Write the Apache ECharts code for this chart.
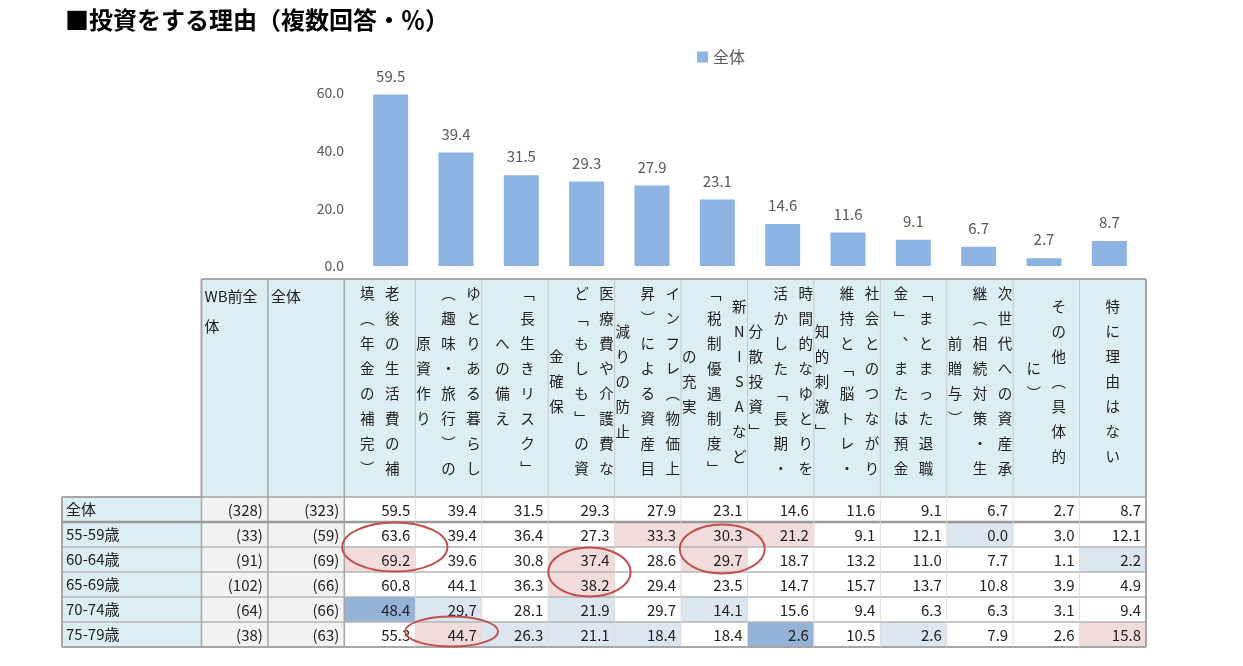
<!DOCTYPE html>
<html>
<head>
<meta charset="utf-8">
<script src="https://cdn.jsdelivr.net/npm/echarts@6/dist/echarts.min.js"></script>
<style>
html, body { margin: 0; padding: 0; background: #fff; }
#chart { width: 1243px; height: 666px; }
</style>
</head>
<body>
<div id="chart"></div>
<script>
// ---- data ----
var reasons = [
    '老後の生活費の補|填（年金の補完）',
    'ゆとりある暮らし|（趣味・旅行）の|原資作り',
    '「長生きリスク」|への備え',
    '医療費や介護費な|ど「もしも」の資|金確保',
    'インフレ（物価上|昇）による資産目|減りの防止',
    '新NISAなど|「税制優遇制度」|の充実',
    '時間的なゆとりを|活かした「長期・|分散投資」',
    '社会とのつながり|維持と「脳トレ・|知的刺激」',
    '「まとまった退職|金」、または預金',
    '次世代への資産承|継（相続対策・生|前贈与）',
    'その他（具体的|に）',
    '特に理由はない'
];
var baseHeads = ['WB前全体', '全体'];
var rowLabels = ['全体', '55-59歳', '60-64歳', '65-69歳', '70-74歳', '75-79歳'];
var baseWB  = [328, 33, 91, 102, 64, 38];
var baseAll = [323, 59, 69, 66, 66, 63];

var overall = [59.5, 39.4, 31.5, 29.3, 27.9, 23.1, 14.6, 11.6, 9.1, 6.7, 2.7, 8.7];
var age55 = [63.6, 39.4, 36.4, 27.3, 33.3, 30.3, 21.2, 9.1, 12.1, 0.0, 3.0, 12.1];
var age60 = [69.2, 39.6, 30.8, 37.4, 28.6, 29.7, 18.7, 13.2, 11.0, 7.7, 1.1, 2.2];
var age65 = [60.8, 44.1, 36.3, 38.2, 29.4, 23.5, 14.7, 15.7, 13.7, 10.8, 3.9, 4.9];
var age70 = [48.4, 29.7, 28.1, 21.9, 29.7, 14.1, 15.6, 9.4, 6.3, 6.3, 3.1, 9.4];
var age75 = [55.3, 44.7, 26.3, 21.1, 18.4, 18.4, 2.6, 10.5, 2.6, 7.9, 2.6, 15.8];

// '+' high, '-' low, '--' much lower than the total
var markAll = ['', '', '', '', '', '', '', '', '', '', '', ''];
var mark55  = ['', '', '', '', '+', '+', '+', '', '', '-', '', ''];
var mark60  = ['+', '', '', '+', '', '+', '', '', '', '', '', '-'];
var mark65  = ['', '', '', '+', '', '', '', '', '', '', '', ''];
var mark70  = ['--', '-', '', '-', '', '-', '', '', '', '', '', ''];
var mark75  = ['', '+', '-', '-', '-', '', '--', '', '-', '', '', '+'];

// circled cells: [row in rowLabels, reason index, row span]
var circled = [[1, 0, 2], [2, 3, 2], [1, 5, 2], [5, 1, 1]];

// ---- layout ----
var FONT = '"Noto Sans CJK JP", "Noto Sans", sans-serif';
var markFill = { '': '#ffffff', '+': '#f2dcdb', '-': '#dce6f1', '--': '#95b3d7' };
var colWeights = [2.1, 1, 1.15, 1.07].concat(reasons.slice(1).map(function () { return 1; }));
var rowWeights = [8.72].concat(rowLabels.map(function () { return 1; }));
var circleFit = [[15, 0.74, 0], [8, 0.62, 0], [8, 0.64, 2], [3, 0.70, -3]];

function edges(ws) {
    var e = [0];
    ws.forEach(function (w) { e.push(e[e.length - 1] + w); });
    return e;
}
var colEdge = edges(colWeights);
var rowEdge = edges(rowWeights);

var ageRows = [overall, age55, age60, age65, age70, age75];
var ageMarks = [markAll, mark55, mark60, mark65, mark70, mark75];

var cells = [];
baseHeads.forEach(function (h, i) {
    cells.push({ col: 1 + i, row: 0, kind: 'headH', text: h, fill: '#daeef3' });
});
reasons.forEach(function (r, i) {
    cells.push({ col: 3 + i, row: 0, kind: 'headV', text: r, fill: '#daeef3' });
});
rowLabels.forEach(function (lab, r) {
    cells.push({ col: 0, row: r + 1, kind: 'label', text: lab, fill: '#daeef3' });
    cells.push({ col: 1, row: r + 1, kind: 'num', text: '(' + baseWB[r] + ')', fill: '#f2f2f2' });
    cells.push({ col: 2, row: r + 1, kind: 'num', text: '(' + baseAll[r] + ')', fill: '#f2f2f2' });
    ageRows[r].forEach(function (v, i) {
        cells.push({ col: 3 + i, row: r + 1, kind: 'num', text: v.toFixed(1), fill: markFill[ageMarks[r][i]] });
    });
});

var vertForms = { '（': '︵', '）': '︶', '「': '﹁', '」': '﹂', '、': '︑' };
function vertical(s) {
    return s.split('').map(function (ch) { return vertForms[ch] || ch; }).join('\n');
}

function cellBox(api, c0, c1, r0, r1) {
    var a = api.coord([colEdge[c0], rowEdge[r0]]);
    var b = api.coord([colEdge[c1], rowEdge[r1]]);
    return { x: a[0], y: a[1], w: b[0] - a[0], h: b[1] - a[1] };
}

function txt(x, y, text, align, vAlign, extra) {
    var st = {
        text: text, fill: '#222', fontSize: 15, fontFamily: FONT,
        align: align, textAlign: align, verticalAlign: vAlign, textVerticalAlign: vAlign
    };
    for (var k in extra) st[k] = extra[k];
    return { type: 'text', x: x, y: y, style: st };
}

function renderCell(params, api) {
    var c = cells[params.dataIndex];
    var b = cellBox(api, c.col, c.col + 1, c.row, c.row + 1);
    var kids = [{ type: 'rect', shape: { x: b.x, y: b.y, width: b.w, height: b.h }, style: { fill: c.fill } }];
    if (c.kind === 'headH') {
        kids.push(txt(b.x + 3, b.y + 2, c.text, 'left', 'top',
            { width: b.w - 5, overflow: 'breakAll', lineHeight: 30 }));
    } else if (c.kind === 'headV') {
        var lines = c.text.split('|');
        var pitch = 25, n = lines.length;
        var cx = b.x + b.w / 2, cy = b.y + 102;
        lines.forEach(function (ln, i) {
            kids.push(txt(cx + ((n - 1) / 2 - i) * pitch, cy, vertical(ln), 'center', 'middle',
                { lineHeight: 25, fontSize: 14.5 }));
        });
    } else if (c.kind === 'label') {
        kids.push(txt(b.x + 4, b.y + b.h / 2, c.text, 'left', 'middle', {}));
    } else {
        kids.push(txt(b.x + b.w - 5, b.y + b.h / 2 + 1, c.text, 'right', 'middle', {}));
    }
    return { type: 'group', children: kids };
}

function seg(x1, y1, x2, y2, color, width) {
    return { type: 'line', shape: { x1: x1, y1: y1, x2: x2, y2: y2 }, style: { stroke: color, lineWidth: width } };
}

function renderBorder(params, api) {
    var c = cells[params.dataIndex];
    var b = cellBox(api, c.col, c.col + 1, c.row, c.row + 1);
    var lastCol = colWeights.length - 1, lastRow = rowWeights.length - 1;
    var kids = [];
    var x2 = b.x + b.w, y2 = b.y + b.h;
    var strong = '#a6a6a6';
    // bottom
    if (c.row === 0) kids.push(seg(b.x, y2, x2, y2, strong, 1.5));
    else if (c.row === 1) kids.push(seg(b.x, y2, x2, y2, '#999999', 2.5));
    else if (c.row === lastRow) kids.push(seg(b.x, y2, x2, y2, strong, 2));
    else kids.push(seg(b.x, y2, x2, y2, '#b4b4b4', 1.5));
    // right
    if (c.col === lastCol) kids.push(seg(x2, b.y, x2, y2, strong, 2));
    else if (c.col <= 2) kids.push(seg(x2, b.y, x2, y2, strong, 1.5));
    else kids.push(seg(x2, b.y, x2, y2, c.row === 0 ? '#c8c8c8' : '#dcdcdc', 1));
    // top and left outer edges
    if (c.row === 0) kids.push(seg(b.x, b.y, x2, b.y, strong, 2));
    if (c.row === 1 && c.col === 0) kids.push(seg(b.x, b.y, x2, b.y, strong, 2));
    if (c.col === 0 || (c.row === 0 && c.col === 1)) kids.push(seg(b.x, b.y, b.x, y2, strong, 2));
    return { type: 'group', children: kids };
}

function renderCircle(params, api) {
    var m = circled[params.dataIndex], f = circleFit[params.dataIndex];
    var b = cellBox(api, 3 + m[1], 4 + m[1], 1 + m[0], 1 + m[0] + m[2]);
    return {
        type: 'ellipse',
        shape: { cx: b.x + b.w / 2 + f[0], cy: b.y + b.h / 2 + f[2], rx: b.w * f[1], ry: m[2] > 1 ? b.h * 0.49 : b.h * 0.6 },
        style: { fill: 'none', stroke: '#c0504d', lineWidth: 2 }
    };
}

var chart = echarts.init(document.getElementById('chart'));
chart.setOption({
    animation: false,
    textStyle: { fontFamily: FONT },
    title: {
        text: '■投資をする理由（複数回答・％）',
        left: 60, top: 3,
        textStyle: { fontSize: 24, fontWeight: 'bold', color: '#000', fontFamily: FONT }
    },
    legend: {
        data: ['全体'], left: 692, top: 44,
        icon: 'rect', itemWidth: 11, itemHeight: 11, itemGap: 4,
        textStyle: { fontSize: 16, color: '#595959', fontFamily: FONT }
    },
    grid: [
        { left: 358, right: 101, top: 93, bottom: 400 },
        { left: 62, right: 97, top: 279, bottom: 19 }
    ],
    xAxis: [
        {
            type: 'category', gridIndex: 0,
            data: reasons.map(function (r) { return r.replace(/\|/g, ''); }),
            axisLine: { show: false }, axisTick: { show: false }, axisLabel: { show: false }
        },
        { type: 'value', gridIndex: 1, min: 0, max: colEdge[colEdge.length - 1], show: false }
    ],
    yAxis: [
        {
            type: 'value', gridIndex: 0, min: 0, max: 60, interval: 20,
            axisLine: { show: false }, axisTick: { show: false }, splitLine: { show: false },
            axisLabel: {
                fontSize: 14, color: '#595959', margin: 14,
                formatter: function (v) { return v.toFixed(1); }
            }
        },
        { type: 'value', gridIndex: 1, min: 0, max: rowEdge[rowEdge.length - 1], inverse: true, show: false }
    ],
    series: [
        {
            name: '全体', type: 'bar', xAxisIndex: 0, yAxisIndex: 0,
            data: overall, barWidth: 35,
            itemStyle: { color: '#8db3e2' },
            label: {
                show: true, position: 'top', distance: 11,
                fontSize: 15, color: '#595959',
                formatter: function (p) { return p.value.toFixed(1); }
            }
        },
        {
            name: 'table', type: 'custom', xAxisIndex: 1, yAxisIndex: 1, silent: true,
            data: cells.map(function (c) { return [c.col, c.row]; }),
            renderItem: renderCell, z: 2
        },
        {
            name: 'borders', type: 'custom', xAxisIndex: 1, yAxisIndex: 1, silent: true,
            data: cells.map(function (c) { return [c.col, c.row]; }),
            renderItem: renderBorder, z: 3
        },
        {
            name: 'circles', type: 'custom', xAxisIndex: 1, yAxisIndex: 1, silent: true,
            data: circled.map(function (m) { return [3 + m[1], 1 + m[0]]; }),
            renderItem: renderCircle, z: 4
        }
    ]
});
</script>
</body>
</html>
